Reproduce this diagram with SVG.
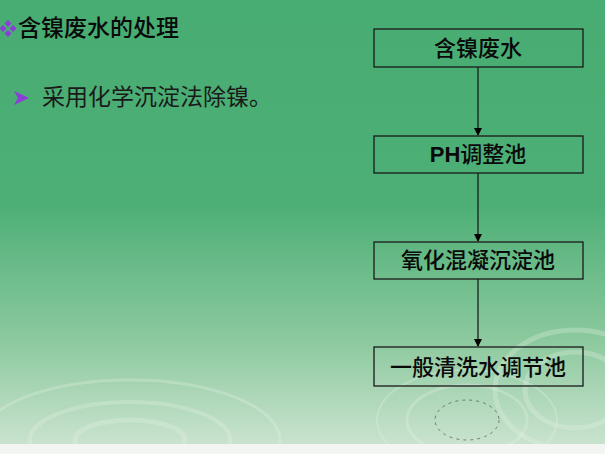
<svg xmlns="http://www.w3.org/2000/svg" width="605" height="454" viewBox="0 0 605 454">
<defs>
<linearGradient id="bg" x1="0" y1="0" x2="0" y2="1">
<stop offset="0" stop-color="#48ad72"/>
<stop offset="0.45" stop-color="#4daf76"/>
<stop offset="0.75" stop-color="#8cc99e"/>
<stop offset="1" stop-color="#cfe5d3"/>
</linearGradient>
<marker id="ah" markerWidth="8" markerHeight="8" refX="7" refY="4" orient="auto" markerUnits="userSpaceOnUse">
<path d="M0,0 L8,4 L0,8 Z" fill="#000"/>
</marker>
<style>
.box{fill:none;stroke:#1a1a1a;stroke-width:1.3}
.t{font-family:"Noto Sans CJK SC","Liberation Sans",sans-serif;fill:#0a0a0a;font-weight:500}
.lbl{font-size:22px;text-anchor:middle}
.conn{stroke:#111;stroke-width:1.2;fill:none;marker-end:url(#ah)}
.rip{fill:none;stroke:#e4f1e6;opacity:0.3}
</style>
</defs>
<rect x="0" y="0" width="605" height="454" fill="url(#bg)"/>
<g id="ripples">
<ellipse class="rip" cx="130" cy="440" rx="150" ry="60" stroke-width="3"/>
<ellipse class="rip" cx="130" cy="440" rx="100" ry="38" stroke-width="4"/>
<ellipse class="rip" cx="130" cy="440" rx="55" ry="20" stroke-width="5"/>
<ellipse class="rip" cx="467" cy="420" rx="60" ry="35" stroke-width="3"/>
<ellipse class="rip" cx="467" cy="420" rx="90" ry="50" stroke-width="2"/>
<ellipse class="rip" cx="575" cy="390" rx="80" ry="60" stroke-width="5"/>
<ellipse class="rip" cx="575" cy="390" rx="50" ry="38" stroke-width="5"/>
<ellipse cx="467" cy="420" rx="32" ry="20" fill="none" stroke="#333" stroke-width="0.8" stroke-dasharray="3,4" opacity="0.7"/>
</g>
<rect x="0" y="444" width="605" height="10" fill="#f2f5f2"/>
<g id="title">
<g fill="#8a3fd6">
<rect x="5.5" y="21" width="5" height="5" transform="rotate(45 8 23.5)"/>
<rect x="5.5" y="31" width="5" height="5" transform="rotate(45 8 33.5)"/>
<rect x="0.5" y="26" width="5" height="5" transform="rotate(45 3 28.5)"/>
<rect x="10.5" y="26" width="5" height="5" transform="rotate(45 13 28.5)"/>
</g>
<text class="t" x="18" y="36" font-size="23">含镍废水的处理</text>
</g>
<g id="bullet">
<path d="M14,91 L29,98 L14,105 L18,98 Z" fill="#8a3fd6"/>
<text class="t" x="42" y="105" font-size="23" style="fill:#1a1a1a;font-weight:400">采用化学沉淀法除镍。</text>
</g>
<g id="connectors">
<line class="conn" x1="478" y1="67" x2="478" y2="135"/>
<line class="conn" x1="478" y1="173" x2="478" y2="241"/>
<line class="conn" x1="478" y1="279" x2="478" y2="346"/>
</g>
<g id="n1">
<rect class="box" x="374" y="29" width="209" height="38"/>
<text class="t lbl" x="478" y="56">含镍废水</text>
</g>
<g id="n2">
<rect class="box" x="374" y="136" width="209" height="37"/>
<text class="t lbl" x="478" y="162"><tspan style="font-family:'Liberation Sans',sans-serif;font-weight:bold">PH</tspan>调整池</text>
</g>
<g id="n3">
<rect class="box" x="374" y="242" width="209" height="37"/>
<text class="t lbl" x="478" y="268">氧化混凝沉淀池</text>
</g>
<g id="n4">
<rect class="box" x="374" y="347" width="209" height="39"/>
<text class="t lbl" x="478" y="375">一般清洗水调节池</text>
</g>
</svg>
